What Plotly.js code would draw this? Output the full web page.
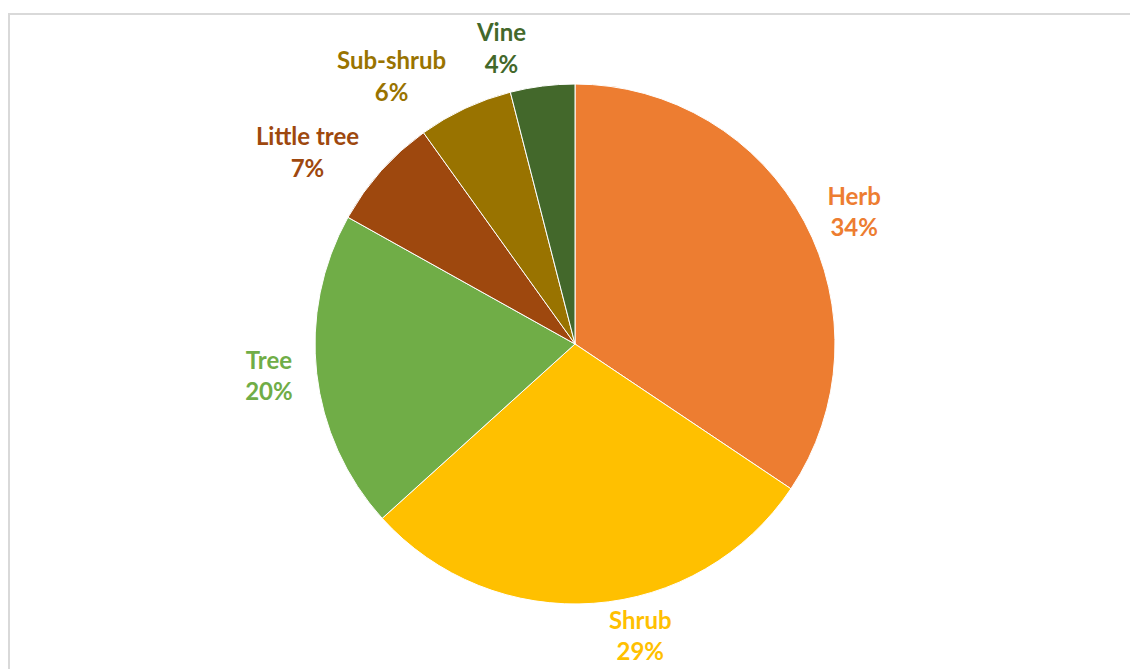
<!DOCTYPE html>
<html>
<head>
<meta charset="utf-8">
<script src="https://cdn.plot.ly/plotly-3.0.1.min.js"></script>
<style>
  html, body { margin: 0; padding: 0; background: #ffffff; }
  #frame { position: absolute; left: 8px; top: 13px; width: 1200px; height: 700px;
           border-left: 2px solid #d9d9d9; border-top: 2px solid #d9d9d9; }
  #chart { position: absolute; left: 0; top: 0; width: 1130px; height: 669px; }
  #chart path.textline { stroke: none !important; }
</style>
</head>
<body>
<div id="frame"></div>
<div id="chart"></div>
<script>
const categories = ["Herb", "Shrub", "Tree", "Little tree", "Sub-shrub", "Vine"];
const shares = [34.4, 28.9, 19.8, 7.0, 5.9, 4.0];
const sliceColors = ["#ED7D31", "#FFC000", "#70AD47", "#9E480E", "#997300", "#43682B"];

// label groups (each group is placed by its own pie so labels don't push each other)
const labelGroupA = ["Herb", "Tree", "Little tree", "Vine"];
const labelGroupB = ["Sub-shrub"];
const labelGroupC = ["Shrub"];

const labelFont = { family: "Lato, 'Open Sans', sans-serif", size: 24, weight: "bold", color: sliceColors };
const clear = categories.map(() => "rgba(0,0,0,0)");

const pieDomain = { x: [0.0664, 0.9513], y: [0.0972, 0.8744] };
const labelDomain = { x: [0.0664, 0.9513], y: [0.0837, 0.8879] };
const labelDomainTight = { x: [0.0664, 0.9513], y: [0.0942, 0.8774] };

const basePie = {
  type: "pie",
  labels: categories,
  values: shares,
  sort: false,
  direction: "clockwise",
  rotation: 0,
  hoverinfo: "skip",
  showlegend: false
};

const slices = Object.assign({}, basePie, {
  domain: pieDomain,
  marker: { colors: sliceColors, line: { color: "#ffffff", width: 1 } },
  textposition: "none"
});

function labelTrace(group, domain) {
  return Object.assign({}, basePie, {
    domain: domain,
    marker: { colors: clear, line: { width: 0 } },
    textposition: categories.map(c => group.includes(c) ? "outside" : "none"),
    texttemplate: "%{label}<br>%{percent:.0%}",
    textfont: labelFont,
    outsidetextfont: labelFont
  });
}

const layout = {
  width: 1130,
  height: 669,
  margin: { l: 0, r: 0, t: 0, b: 0 },
  paper_bgcolor: "rgba(0,0,0,0)",
  plot_bgcolor: "rgba(0,0,0,0)",
  showlegend: false
};

Plotly.newPlot("chart", [
  slices,
  labelTrace(labelGroupA, labelDomain),
  labelTrace(labelGroupB, labelDomain),
  labelTrace(labelGroupC, labelDomainTight)
], layout, { displayModeBar: false, staticPlot: true });
</script>
</body>
</html>
